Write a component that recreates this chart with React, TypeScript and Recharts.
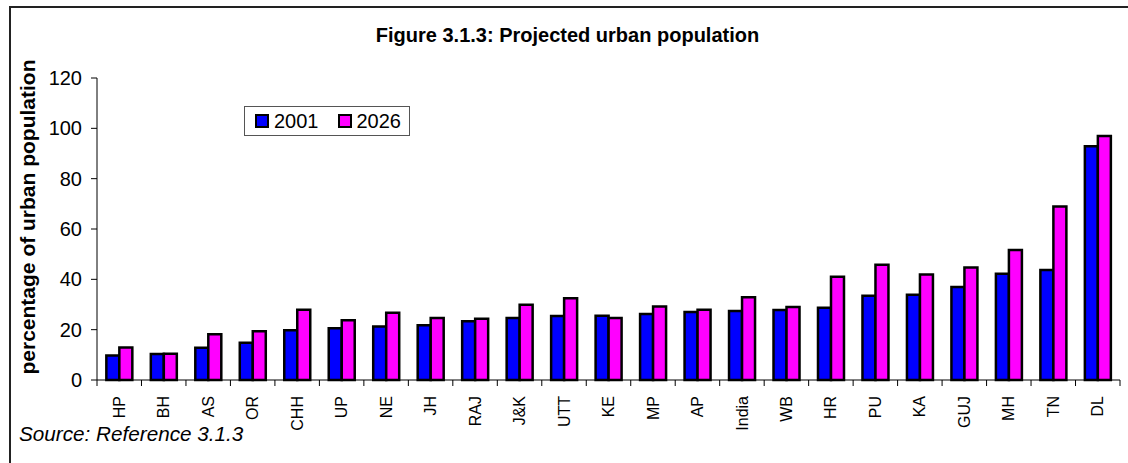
import React from "react";
import { BarChart, Bar, XAxis, YAxis, Legend } from "recharts";

const states = ["HP", "BH", "AS", "OR", "CHH", "UP", "NE", "JH", "RAJ", "J&K", "UTT", "KE", "MP", "AP", "India", "WB", "HR", "PU", "KA", "GUJ", "MH", "TN", "DL"];
const urban2001 = [9.7, 10.3, 12.8, 14.8, 19.8, 20.6, 21.3, 21.8, 23.3, 24.6, 25.4, 25.5, 26.2, 27, 27.4, 27.8, 28.7, 33.5, 33.9, 37, 42.2, 43.7, 92.9];
const urban2026 = [12.9, 10.4, 18.2, 19.4, 27.9, 23.7, 26.7, 24.6, 24.3, 29.9, 32.5, 24.6, 29.2, 27.9, 32.9, 29, 41, 45.8, 41.9, 44.7, 51.7, 68.9, 97];
const yTicks = [0, 20, 40, 60, 80, 100, 120];

const data = states.map((s, i) => ({ state: s, y2001: urban2001[i], y2026: urban2026[i] }));

const FONT = "Arial, 'Liberation Sans', sans-serif";

const XTick = (props: any) => {
  const { x, y, payload, index } = props;
  const off = payload.offset || 0;
  const axisY = y - 16;
  return (
    <g>
      <line x1={x - off} x2={x - off} y1={axisY} y2={axisY + 6} stroke="#000" strokeWidth={1} />
      {index === states.length - 1 && (
        <line x1={x + off} x2={x + off} y1={axisY} y2={axisY + 6} stroke="#000" strokeWidth={1} />
      )}
      <text
        x={x}
        y={y}
        dy="0.35em"
        transform={`rotate(-90 ${x} ${y})`}
        textAnchor="end"
        fontSize={16}
        fontFamily={FONT}
        fill="#000"
      >
        {payload.value}
      </text>
    </g>
  );
};

const LegendBox = (props: any) => {
  const items = props.payload || [];
  return (
    <div
      style={{
        display: "flex",
        alignItems: "center",
        height: 28,
        width: 154,
        border: "1px solid #555",
        background: "#fff",
        paddingLeft: 10,
        boxSizing: "content-box",
        fontFamily: FONT,
        fontSize: 20,
        color: "#000",
      }}
    >
      {items.map((it: any, i: number) => (
        <div key={i} style={{ display: "flex", alignItems: "center", marginRight: 19 }}>
          <span
            style={{
              display: "inline-block",
              width: 10,
              height: 10,
              border: "2px solid #000",
              background: it.color,
              marginRight: 5,
            }}
          />
          <span style={{ lineHeight: "20px" }}>{it.value}</span>
        </div>
      ))}
    </div>
  );
};

export default function App() {
  return (
    <div
      style={{
        position: "absolute",
        left: 0,
        top: 0,
        width: 1128,
        height: 463,
        overflow: "hidden",
        background: "#fff",
        fontFamily: FONT,
      }}
    >
      <div
        style={{
          position: "absolute",
          left: 9,
          top: 6,
          width: 1140,
          height: 480,
          border: "2px solid #222",
        }}
      />
      <div
        style={{
          position: "absolute",
          left: 0,
          width: 1135,
          top: 25,
          textAlign: "center",
          fontSize: 20,
          lineHeight: "20px",
          fontWeight: "bold",
          color: "#000",
        }}
      >
        Figure 3.1.3: Projected urban population
      </div>
      <div style={{ position: "absolute", left: 0, top: 0 }}>
        <BarChart
          width={1128}
          height={463}
          data={data}
          margin={{ top: 78, right: 8, bottom: 0, left: 0 }}
          barCategoryGap="21%"
          barGap={0}
        >
          <XAxis
            dataKey="state"
            interval={0}
            tickLine={false}
            tickSize={6}
            tickMargin={10}
            axisLine={{ stroke: "#000", strokeWidth: 1 }}
            tick={<XTick />}
            height={83}
          />
          <YAxis
            width={97}
            domain={[0, 120]}
            ticks={yTicks}
            interval={0}
            tickSize={6}
            tickMargin={9}
            axisLine={{ stroke: "#000", strokeWidth: 1 }}
            tickLine={{ stroke: "#000" }}
            tick={{ fontSize: 20, fill: "#000", fontFamily: FONT }}
            label={{
              content: () => (
                <text
                  x={35}
                  y={217}
                  transform="rotate(-90 35 217)"
                  textAnchor="middle"
                  fontSize={21}
                  fontWeight="bold"
                  fontFamily={FONT}
                  fill="#000"
                >
                  percentage of urban population
                </text>
              ),
            }}
          />
          <Legend
            layout="horizontal"
            verticalAlign="middle"
            align="center"
            content={<LegendBox />}
            wrapperStyle={{ position: "absolute", left: 244, top: 106, width: "auto" }}
          />
          <Bar dataKey="y2001" name="2001" fill="#0000FF" stroke="#000" strokeWidth={2.5} isAnimationActive={false} />
          <Bar dataKey="y2026" name="2026" fill="#FF00FF" stroke="#000" strokeWidth={2.5} isAnimationActive={false} />
        </BarChart>
      </div>
      <div
        style={{
          position: "absolute",
          left: 19,
          top: 424,
          fontSize: 20.7,
          lineHeight: "20.7px",
          fontStyle: "italic",
          color: "#000",
        }}
      >
        Source: Reference 3.1.3
      </div>
    </div>
  );
}
